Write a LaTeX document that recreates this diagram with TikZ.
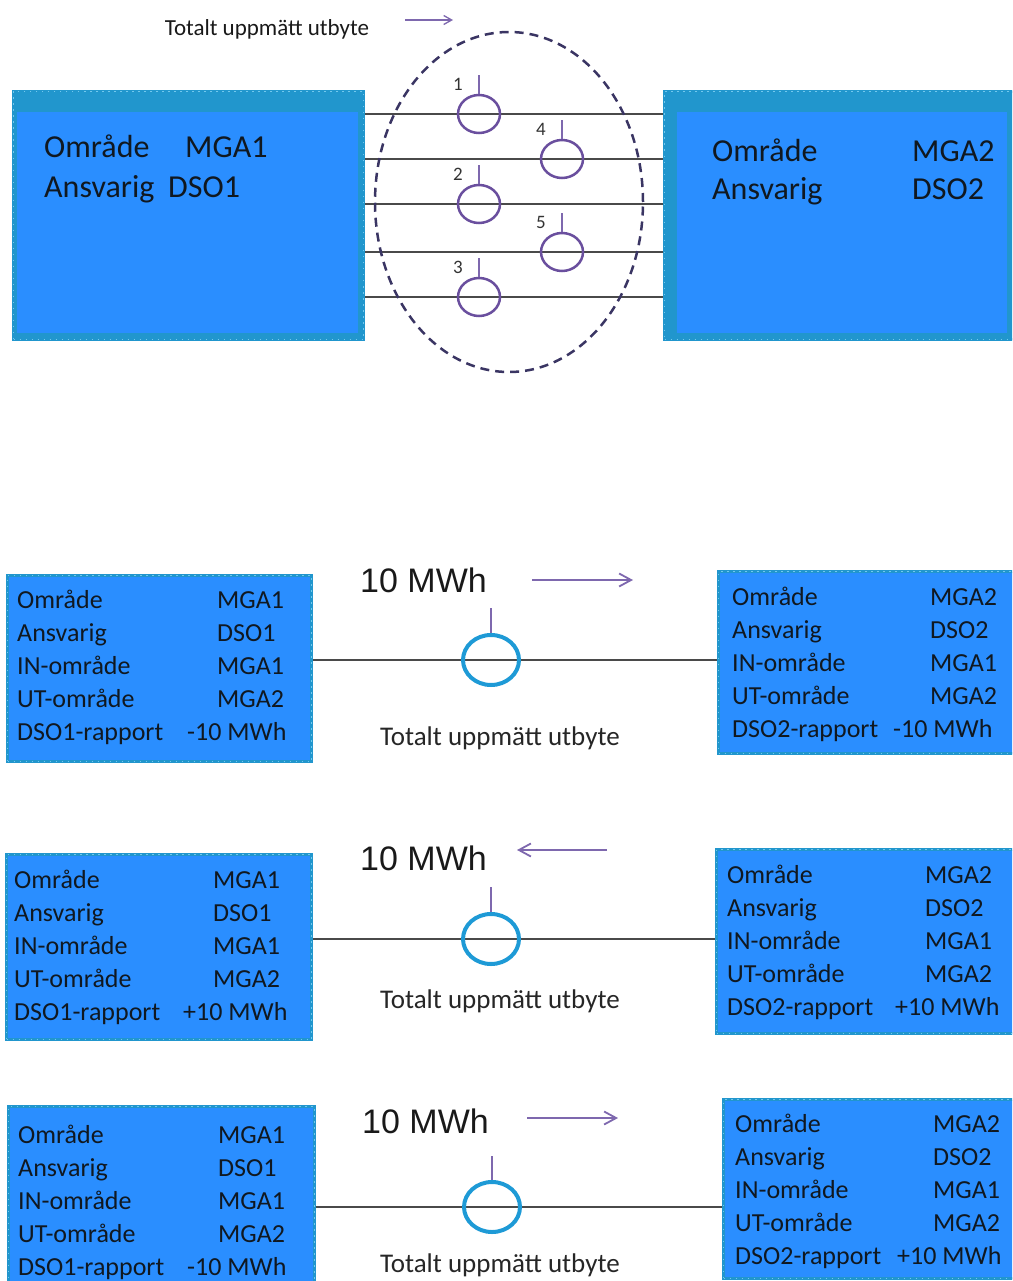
\documentclass[tikz,border=0pt]{standalone}
\usepackage{fontspec}
\setmainfont{Carlito}
\newfontfamily\arialfont{Liberation Sans}
\usetikzlibrary{arrows.meta, calc, shapes.geometric}

\definecolor{areafill}{HTML}{2A8EFF}
\definecolor{areaframe}{HTML}{2196CD}
\definecolor{areadots}{HTML}{72C8EE}
\definecolor{meterpurple}{HTML}{6A4F9E}
\definecolor{stempurple}{HTML}{7E68AE}
\definecolor{meterblue}{HTML}{1E9AD6}
\definecolor{feedergrey}{HTML}{4A4A4A}
\definecolor{ringnavy}{HTML}{3A3563}
\definecolor{inktext}{HTML}{101820}

\begin{document}
\begin{tikzpicture}[x=1pt, y=-1pt,
    areabox/.style  ={draw=areaframe, line width=3pt, fill=areafill, inner sep=0pt, anchor=north west,
                      postaction={draw=areadots, line width=1.6pt, dash pattern=on 1.5pt off 4.5pt}},
    areainner/.style={fill=areafill, inner sep=0pt, anchor=north west},
    bigtext/.style  ={font=\fontsize{32}{36}\selectfont, anchor=base west, inner sep=0pt, text=inktext},
    rowtext/.style  ={font=\fontsize{26}{30}\selectfont, anchor=base west, inner sep=0pt, text=inktext},
    numtext/.style  ={font=\fontsize{19}{22}\selectfont, inner sep=0pt, text=black!80},
    energytext/.style={font=\arialfont\fontsize{34}{38}\selectfont, anchor=base west, inner sep=0pt, text=black!90},
    sumtext/.style  ={font=\fontsize{27}{30}\selectfont, anchor=base, inner sep=0pt, text=black!85},
    feeder/.style   ={draw=feedergrey, line width=1.6pt},
    stem/.style     ={draw=stempurple, line width=1.6pt},
    smallmeter/.style={ellipse, draw=meterpurple, line width=2.5pt, minimum width=42pt, minimum height=38pt, inner sep=0pt},
    bigmeter/.style ={ellipse, draw=meterblue, line width=4pt, minimum width=56pt, minimum height=50pt, inner sep=0pt},
    groupring/.style={ellipse, draw=ringnavy, line width=2.5pt, dash pattern=on 9pt off 6pt, minimum width=268pt, minimum height=340pt},
    flowarrow/.style={-{Straight Barb[length=12pt, width=13pt]}, stempurple, line width=1.8pt}
]
\clip (0,0) rectangle (1012,1281);

% ---------- top: five meters between MGA1 and MGA2 ----------
\node[areabox, fill=areaframe, minimum width=350pt, minimum height=248pt] (area1L) at (12,90) {};
\node[areainner, minimum width=341pt, minimum height=221pt] (inner1L) at (17,112) {};
\node[areabox, fill=areaframe, minimum width=360pt, minimum height=248pt] (area1R) at (663,90) {};
\node[areainner, minimum width=330pt, minimum height=221pt] (inner1R) at (677,112) {};

\node[bigtext] (lab1L0) at (44,158) {Område};
\node[bigtext] (val1L0) at (185,158) {MGA1};
\node[bigtext] (lab1L1) at (44,198) {Ansvarig};
\node[bigtext] (val1L1) at (168,198) {DSO1};
\node[bigtext] (lab1R0) at (712,162) {Område};
\node[bigtext] (val1R0) at (912,162) {MGA2};
\node[bigtext] (lab1R1) at (712,200) {Ansvarig};
\node[bigtext] (val1R1) at (912,200) {DSO2};

\coordinate (c1) at (479,114);
\coordinate (c2) at (479,204);
\coordinate (c3) at (479,297);
\coordinate (c4) at (562,159);
\coordinate (c5) at (562,252);

\foreach \m in {1,...,5}
  \draw[feeder] (area1L.east |- c\m) -- (area1R.west |- c\m);

\foreach \m in {1,...,5}{
  \node[smallmeter] (m\m) at (c\m) {};
  \draw[stem] (m\m.north) -- ++(0,-19);
  \node[numtext] (n\m) at ($(m\m.north)+(-21,-9)$) {\m};
}

\node[groupring] (ring) at (509,202) {};

\node[font=\fontsize{23}{26}\selectfont, anchor=base, inner sep=0pt, text=black!90] (title1) at (267,36) {Totalt uppmätt utbyte};
\coordinate (flow1s) at (405,20);
\coordinate (flow1e) at (453,20);
\draw[flowarrow, line width=1.3pt, -{Straight Barb[length=8pt, width=9pt]}] (flow1s) -- (flow1e);

% ---------- lower panels: one summed meter each ----------
\node[areabox, minimum width=304pt, minimum height=186pt] (area2L) at (6,574) {};
\node[areabox, minimum width=310pt, minimum height=182pt] (area2R) at (717,570) {};
\node[areabox, minimum width=305pt, minimum height=185pt] (area3L) at (5,853) {};
\node[areabox, minimum width=310pt, minimum height=184pt] (area3R) at (715,848) {};
\node[areabox, minimum width=306pt, minimum height=190pt] (area4L) at (7,1105) {};
\node[areabox, minimum width=305pt, minimum height=179pt] (area4R) at (722,1098) {};

\foreach \pn/\an/\lx/\by/\vx/\rx/\rep in {
    2L/1/17/608/217/187/-10, 2R/2/732/605/930/893/-10,
    3L/1/14/888/213/183/+10, 3R/2/727/883/925/895/+10,
    4L/1/18/1143/218/187/-10, 4R/2/735/1132/933/897/+10}{
  \foreach \lab/\val [count=\i from 0] in {Område/MGA\an, Ansvarig/DSO\an, IN-område/MGA1, UT-område/MGA2}{
    \node[rowtext] (lab\pn-\i) at (\lx,\by+33*\i) {\lab};
    \node[rowtext] (val\pn-\i) at (\vx,\by+33*\i) {\val};
  }
  \node[rowtext] (lab\pn-4) at (\lx,\by+132) {DSO\an-rapport};
  \node[rowtext] (val\pn-4) at (\rx,\by+132) {\rep{} MWh};
}

% panel 2: MGA1 -> MGA2
\coordinate (c6) at (491,660);
\draw[feeder] (area2L.east |- c6) -- (area2R.west |- c6);
\node[bigmeter] (meter2) at (c6) {};
\draw[stem] (meter2.north) -- ++(0,-25);
\node[energytext] (energy2) at (360,592) {10 MWh};
\coordinate (flow2s) at (532,580);
\coordinate (flow2e) at (633,580);
\draw[flowarrow] (flow2s) -- (flow2e);
\node[sumtext] (sum2) at (500,745) {Totalt uppmätt utbyte};

% panel 3: MGA2 -> MGA1
\coordinate (c7) at (491,939);
\draw[feeder] (area3L.east |- c7) -- (area3R.west |- c7);
\node[bigmeter] (meter3) at (c7) {};
\draw[stem] (meter3.north) -- ++(0,-25);
\node[energytext] (energy3) at (360,870) {10 MWh};
\coordinate (flow3s) at (607,850);
\coordinate (flow3e) at (517,850);
\draw[flowarrow] (flow3s) -- (flow3e);
\node[sumtext] (sum3) at (500,1008) {Totalt uppmätt utbyte};

% panel 4: MGA1 -> MGA2, reports disagree
\coordinate (c8) at (492,1207);
\draw[feeder] (area4L.east |- c8) -- (area4R.west |- c8);
\node[bigmeter] (meter4) at (c8) {};
\draw[stem] (meter4.north) -- ++(0,-24);
\node[energytext] (energy4) at (362,1133) {10 MWh};
\coordinate (flow4s) at (527,1118);
\coordinate (flow4e) at (618,1118);
\draw[flowarrow] (flow4s) -- (flow4e);
\node[sumtext] (sum4) at (500,1272) {Totalt uppmätt utbyte};

\end{tikzpicture}
\end{document}
